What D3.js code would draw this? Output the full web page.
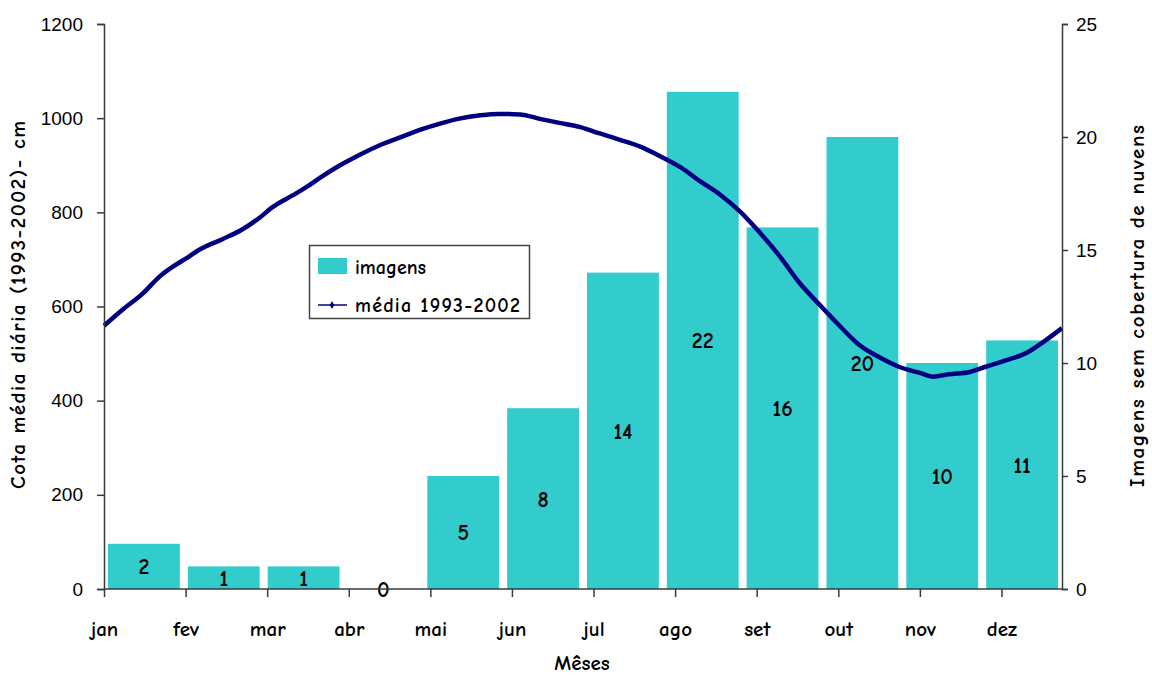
<!DOCTYPE html>
<html>
<head>
<meta charset="utf-8">
<script src="https://cdn.jsdelivr.net/npm/d3@7"></script>
<style>
  html, body { margin: 0; padding: 0; background: #fff; }
  svg { display: block; }
</style>
</head>
<body>
<svg id="chart" width="1152" height="678"></svg>
<script>
// Months (bar categories and day-axis labels)
const months = ["jan", "fev", "mar", "abr", "mai", "jun", "jul", "ago", "set", "out", "nov", "dez"];
// Number of cloud-free images per month
const images = [2, 1, 1, 0, 5, 8, 14, 22, 16, 20, 10, 11];
// Daily mean stage 1993-2002 (cm): day of year
const days = [0, 7, 15, 21, 26, 32, 36, 45, 52, 59, 64, 72, 77, 82, 90, 97, 105, 112, 120, 128,
  135, 143, 150, 158, 166, 173, 181, 188, 196, 204, 211, 219, 226, 234, 242, 249, 257, 264,
  272, 280, 287, 295, 302, 310, 315, 321, 329, 335, 343, 351, 357, 364];
// ... and the stage on that day
const stage = [559, 593, 629, 663, 684, 705, 720, 743, 762, 788, 811, 837, 854, 873, 901, 922,
  943, 958, 975, 989, 999, 1006, 1009, 1008, 998, 990, 981, 968, 954, 939, 920, 896, 868, 838,
  800, 758, 705, 652, 603, 556, 518, 491, 472, 459, 451, 456, 461, 472, 486, 503, 525, 554];
// Tick labels
const leftTicks = [0, 200, 400, 600, 800, 1000, 1200];
const rightTicks = [0, 5, 10, 15, 20, 25];
const dayTicks = [0, 31, 62, 93, 124, 155, 186, 217, 248, 279, 310, 341];

const svg = d3.select("#chart");
const plot = { left: 104, right: 1062, top: 24, bottom: 589 };
const comic = "'Comic Sans MS', 'Comic Neue', 'DejaVu Sans', sans-serif";
const arial = "Arial, 'Liberation Sans', sans-serif";
const axisColor = "#3a3a3a";

const yLeft = d3.scaleLinear().domain([0, 1200]).range([plot.bottom, plot.top]);
const yRight = d3.scaleLinear().domain([0, 25]).range([plot.bottom, plot.top]);
const xBand = d3.scaleBand().domain(months).range([plot.left, plot.right]).paddingInner(0.1).paddingOuter(0.05);
const xDay = d3.scaleLinear().domain([0, 364]).range([plot.left, plot.right]);

// Bars
svg.append("g").selectAll("rect").data(images).join("rect")
  .attr("x", (d, i) => xBand(months[i]))
  .attr("width", xBand.bandwidth())
  .attr("y", d => yRight(d))
  .attr("height", d => plot.bottom - yRight(d))
  .attr("fill", "#33CCCC");

// Daily mean line
const line = d3.line().x(d => xDay(d[0])).y(d => yLeft(d[1])).curve(d3.curveMonotoneX);
svg.append("path")
  .datum(days.map((d, i) => [d, stage[i]]))
  .attr("d", line)
  .attr("fill", "none")
  .attr("stroke", "#000080")
  .attr("stroke-width", 4.5)
  .attr("stroke-linejoin", "round");

// Bar value labels
svg.append("g").selectAll("text").data(images).join("text")
  .attr("x", (d, i) => xBand(months[i]) + xBand.bandwidth() / 2)
  .attr("y", d => (yRight(d) + plot.bottom) / 2)
  .attr("dy", "0.36em")
  .attr("text-anchor", "middle")
  .attr("font-family", comic)
  .attr("font-weight", "bold")
  .attr("font-size", 22)
  .attr("fill", "#000")
  .text(d => d);

// Left axis
const gL = svg.append("g").attr("transform", `translate(${plot.left},0)`)
  .call(d3.axisLeft(yLeft).tickValues(leftTicks).tickSize(7).tickPadding(14).tickFormat(d3.format("d")));
gL.selectAll("text").attr("font-family", arial).attr("font-size", 19).attr("fill", "#000");

// Right axis
const gR = svg.append("g").attr("transform", `translate(${plot.right},0)`)
  .call(d3.axisRight(yRight).tickValues(rightTicks).tickSize(6).tickPadding(8).tickFormat(d3.format("d")));
gR.selectAll("text").attr("font-family", arial).attr("font-size", 19).attr("fill", "#000");

// Bottom axis (day of year, labelled by month)
const gB = svg.append("g").attr("transform", `translate(0,${plot.bottom})`)
  .call(d3.axisBottom(xDay).tickValues(dayTicks).tickSize(8).tickPadding(24).tickFormat((d, i) => months[i]));
gB.selectAll("text").attr("font-family", comic).attr("font-weight", "bold").attr("font-size", 21).attr("fill", "#000");
gB.select(".domain").attr("d", `M${plot.left},0H${plot.right}`);

[gL, gR, gB].forEach(g => {
  g.selectAll("line").attr("stroke", axisColor).attr("stroke-width", 1.5);
  g.select(".domain").attr("stroke", axisColor).attr("stroke-width", 1.5);
});

// Axis titles
svg.append("text")
  .attr("transform", `translate(25,305) rotate(-90)`)
  .attr("text-anchor", "middle")
  .attr("font-family", comic).attr("font-weight", "bold").attr("font-size", 21)
  .attr("textLength", 368).attr("lengthAdjust", "spacing")
  .text("Cota média diária (1993-2002)- cm");
svg.append("text")
  .attr("transform", `translate(1144,306) rotate(-90)`)
  .attr("text-anchor", "middle")
  .attr("font-family", comic).attr("font-weight", "bold").attr("font-size", 21)
  .attr("textLength", 362).attr("lengthAdjust", "spacing")
  .text("Imagens sem cobertura de nuvens");
svg.append("text")
  .attr("x", 582).attr("y", 670)
  .attr("text-anchor", "middle")
  .attr("font-family", comic).attr("font-weight", "bold").attr("font-size", 21)
  .text("Mêses");

// Legend
const lg = svg.append("g");
lg.append("rect").attr("x", 309.5).attr("y", 245.5).attr("width", 220).attr("height", 73)
  .attr("fill", "#fff").attr("stroke", "#444").attr("stroke-width", 1.5);
lg.append("rect").attr("x", 318).attr("y", 258).attr("width", 29).attr("height", 16).attr("fill", "#33CCCC");
lg.append("text").attr("x", 355).attr("y", 274).attr("font-family", comic).attr("font-weight", "bold").attr("font-size", 20).text("imagens");
lg.append("line").attr("x1", 318).attr("x2", 347).attr("y1", 305).attr("y2", 305)
  .attr("stroke", "#000080").attr("stroke-width", 1.5);
lg.append("path").attr("d", d3.symbol(d3.symbolDiamond, 18)()).attr("transform", "translate(332,305)").attr("fill", "#000080");
lg.append("text").attr("x", 355).attr("y", 312).attr("font-family", comic).attr("font-weight", "bold").attr("font-size", 20)
  .attr("textLength", 165).attr("lengthAdjust", "spacing").text("média 1993-2002");
</script>
</body>
</html>
